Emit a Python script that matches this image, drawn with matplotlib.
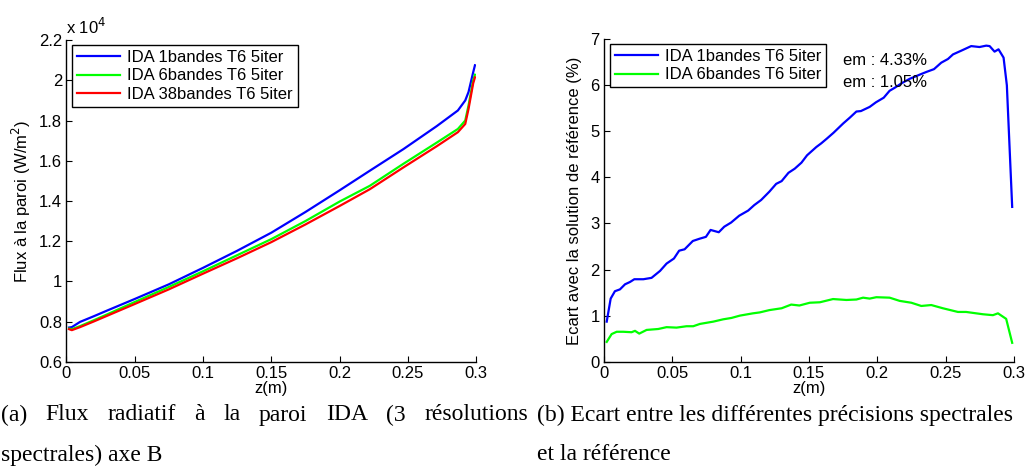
import matplotlib
matplotlib.use("Agg")
import matplotlib.pyplot as plt

plt.rcParams['font.family'] = ['Liberation Sans', 'DejaVu Sans']
plt.rcParams['font.size'] = 12
plt.rcParams['axes.unicode_minus'] = False

# (a) flux radiatif a la paroi, W/m2
z_a = [0.002, 0.004, 0.01, 0.02, 0.03, 0.05, 0.075, 0.1, 0.125, 0.15, 0.175, 0.2,
       0.222, 0.2467, 0.271, 0.2865, 0.2919, 0.2943, 0.2977, 0.299]
flux_1 = [7700, 7720, 7980, 8260, 8550, 9120, 9850, 10670, 11520, 12420, 13450, 14530,
          15500, 16580, 17720, 18500, 19000, 19420, 20400, 20750]
flux_6 = [7650, 7620, 7770, 8060, 8360, 8970, 9720, 10500, 11300, 12100, 13000, 13970,
          14750, 15850, 16900, 17580, 18000, 18750, 20000, 20280]
flux_38 = [7620, 7570, 7720, 8000, 8290, 8870, 9600, 10380, 11150, 11950, 12830, 13750,
           14580, 15670, 16720, 17420, 17830, 18580, 19850, 20150]

# (b) ecart avec la reference (%)
z_1 = [0.002, 0.0049, 0.008, 0.0117, 0.0154, 0.019, 0.0222, 0.0288, 0.0348, 0.041,
       0.0458, 0.0512, 0.055, 0.059, 0.065, 0.070, 0.0746, 0.078, 0.084, 0.088,
       0.093, 0.099, 0.1055, 0.110, 0.115, 0.121, 0.126, 0.130, 0.135, 0.1396,
       0.1445, 0.1486, 0.1554, 0.159, 0.163, 0.168, 0.175, 0.180, 0.1847, 0.188,
       0.1944, 0.199, 0.2047, 0.209, 0.213, 0.2176, 0.2237, 0.231, 0.236, 0.2415,
       0.2468, 0.2517, 0.2554, 0.2614, 0.2687, 0.2748, 0.2797, 0.2822, 0.2858, 0.2887,
       0.2924, 0.2948, 0.2987]
ecart_1 = [0.87, 1.37, 1.53, 1.57, 1.68, 1.73, 1.79, 1.79, 1.82, 1.97,
           2.13, 2.24, 2.41, 2.44, 2.62, 2.67, 2.71, 2.86, 2.81, 2.93,
           3.02, 3.17, 3.28, 3.40, 3.51, 3.69, 3.86, 3.92, 4.10, 4.19,
           4.32, 4.48, 4.66, 4.74, 4.84, 4.97, 5.17, 5.30, 5.43, 5.44,
           5.53, 5.63, 5.73, 5.88, 5.95, 6.04, 6.14, 6.23, 6.29, 6.35,
           6.49, 6.57, 6.67, 6.75, 6.85, 6.83, 6.86, 6.85, 6.73, 6.78,
           6.60, 6.00, 3.36]
z_6 = [0.002, 0.0056, 0.0093, 0.0141, 0.0202, 0.0227, 0.0258, 0.0312, 0.0397, 0.0458,
       0.0531, 0.0604, 0.0653, 0.0702, 0.080, 0.0872, 0.0933, 0.0994, 0.109, 0.114,
       0.121, 0.130, 0.137, 0.143, 0.1506, 0.158, 0.1676, 0.1774, 0.1847, 0.1896,
       0.1944, 0.1993, 0.209, 0.2164, 0.2249, 0.2322, 0.2395, 0.248, 0.259, 0.265,
       0.2773, 0.2846, 0.2883, 0.2943, 0.2987]
ecart_6 = [0.43, 0.60, 0.65, 0.65, 0.64, 0.67, 0.61, 0.69, 0.71, 0.75,
           0.74, 0.77, 0.77, 0.82, 0.87, 0.92, 0.95, 1.00, 1.05, 1.07,
           1.12, 1.16, 1.24, 1.22, 1.28, 1.29, 1.36, 1.34, 1.35, 1.39,
           1.37, 1.40, 1.39, 1.32, 1.28, 1.21, 1.23, 1.16, 1.08, 1.08,
           1.03, 1.01, 1.05, 0.93, 0.41]

labels_a = ['IDA 1bandes T6 5iter', 'IDA 6bandes T6 5iter', 'IDA 38bandes T6 5iter']
labels_b = ['IDA 1bandes T6 5iter', 'IDA 6bandes T6 5iter']
em_text = ['em : 4.33%', 'em : 1.05%']
xticks = [0, 0.05, 0.1, 0.15, 0.2, 0.25, 0.3]
xticklabels = ['0', '0.05', '0.1', '0.15', '0.2', '0.25', '0.3']
caption_a = ['(a) Flux radiatif à la paroi IDA (3 résolutions', 'spectrales) axe B']
caption_b = ['(b) Ecart entre les différentes précisions spectrales', 'et la référence']

W, H = 1027, 475
fig = plt.figure(figsize=(W / 100, H / 100), dpi=100)
ax1 = fig.add_axes([0.0646, 0.2385, 0.3992, 0.677])
ax2 = fig.add_axes([0.5881, 0.2385, 0.3992, 0.679])

def style(ax):
    for s in ['top', 'right']:
        ax.spines[s].set_visible(False)
    for s in ['left', 'bottom']:
        ax.spines[s].set_linewidth(1.0)
    ax.tick_params(direction='in', length=4, width=0.8, labelsize=12, pad=3)
    ax.set_xlim(0, 0.3)
    ax.set_xticks(xticks)
    ax.set_xticklabels(xticklabels)
    ax.set_xlabel('z(m)', fontsize=12, labelpad=0)

def legend(ax):
    leg = ax.legend(loc='upper left', bbox_to_anchor=(0.01, 0.99), fancybox=False,
                    edgecolor='black', framealpha=1, borderpad=0.3, labelspacing=0.2,
                    handlelength=2.6, handletextpad=0.4, borderaxespad=0.1, fontsize=12)
    leg.get_frame().set_linewidth(1.0)

# (a)
ax1.plot(z_a, [v / 1e4 for v in flux_1], color='#0000ff', lw=1.6, label=labels_a[0])
ax1.plot(z_a, [v / 1e4 for v in flux_6], color='#00ff00', lw=1.6, label=labels_a[1])
ax1.plot(z_a, [v / 1e4 for v in flux_38], color='#ff0000', lw=1.6, label=labels_a[2])
style(ax1)
ax1.set_ylim(0.6, 2.2)
ax1.set_yticks([0.6, 0.8, 1, 1.2, 1.4, 1.6, 1.8, 2, 2.2])
ax1.set_yticklabels(['0.6', '0.8', '1', '1.2', '1.4', '1.6', '1.8', '2', '2.2'])
ax1.set_ylabel('Flux à la paroi (W/m$^2$)', fontsize=12, labelpad=4)
ax1.text(0.0, 1.01, 'x 10$^4$', transform=ax1.transAxes, fontsize=12, ha='left', va='bottom')
legend(ax1)

# (b)
ax2.plot(z_1, ecart_1, color='#0000ff', lw=1.6, label=labels_b[0])
ax2.plot(z_6, ecart_6, color='#00ff00', lw=1.6, label=labels_b[1])
style(ax2)
ax2.set_ylim(0, 7)
ax2.set_yticks(range(8))
ax2.set_ylabel('Ecart avec la solution de référence (%)', fontsize=12, labelpad=6)
legend(ax2)
ax2.text(0.175, 6.54, em_text[0], fontsize=12, ha='left', va='center')
ax2.text(0.175, 6.07, em_text[1], fontsize=12, ha='left', va='center')

# captions (serif, first line of (a) justified like in the document)
cap = dict(fontsize=17, family=['Liberation Serif', 'DejaVu Serif'], va='center', ha='left')
renderer = fig.canvas.get_renderer()
words = caption_a[0].split(' ')
texts = [fig.text(0, 1 - 415 / H, w, **cap) for w in words]
widths = [t.get_window_extent(renderer).width for t in texts]
gap = (527 - sum(widths)) / (len(words) - 1)
x = 1
for t, w in zip(texts, widths):
    t.set_x(x / W)
    x += w + gap
fig.text(1 / W, 1 - 455 / H, caption_a[1], **cap)
fig.text(537 / W, 1 - 415 / H, caption_b[0], **cap)
fig.text(537 / W, 1 - 455 / H, caption_b[1], **cap)

fig.savefig('out.png', dpi=100)
